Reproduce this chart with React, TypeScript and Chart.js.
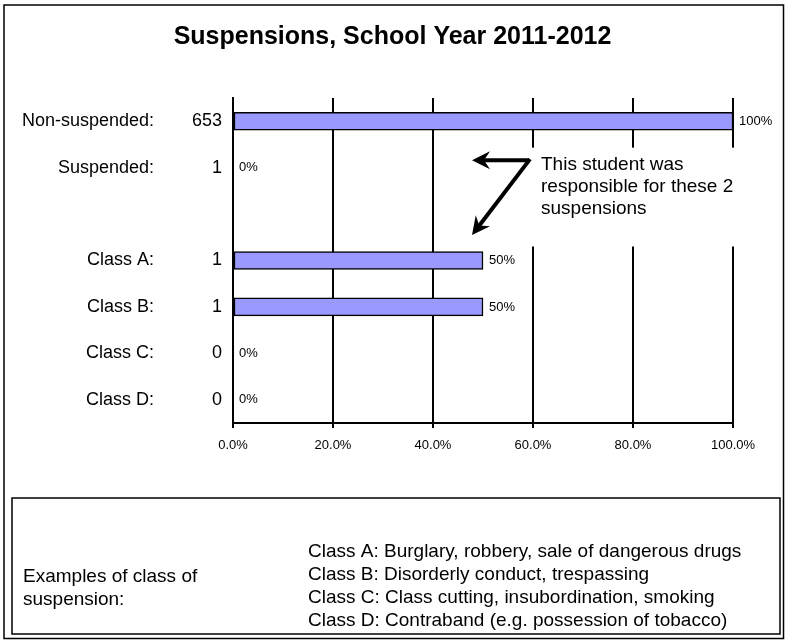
import React, { useEffect, useRef } from 'react';
import { Chart, registerables } from 'chart.js';

Chart.register(...registerables);

const FONT = '"Liberation Sans", Arial, sans-serif';

const chartTitle = 'Suspensions, School Year 2011-2012';
const categories = ['Non-suspended:', 'Suspended:', '', 'Class A:', 'Class B:', 'Class C:', 'Class D:'];
const counts: (number | null)[] = [653, 1, null, 1, 1, 0, 0];
const percents: (number | null)[] = [100, 0, null, 50, 50, 0, 0];
const percentLabels: (string | null)[] = ['100%', '0%', null, '50%', '50%', '0%', '0%'];
const xTickValues = [0, 20, 40, 60, 80, 100];
const noteLines = ['This student was', 'responsible for these 2', 'suspensions'];
const boxLeftLines = ['Examples of class of', 'suspension:'];
const boxRightLines = [
  'Class A: Burglary, robbery, sale of dangerous drugs',
  'Class B: Disorderly conduct, trespassing',
  'Class C: Class cutting, insubordination, smoking',
  'Class D: Contraband (e.g. possession of tobacco)',
];

function drawArrow(ctx: CanvasRenderingContext2D, x1: number, y1: number, x2: number, y2: number) {
  const ang = Math.atan2(y2 - y1, x2 - x1);
  const headLen = 18;
  const headW = 9;
  const bx = x2 - Math.cos(ang) * headLen;
  const by = y2 - Math.sin(ang) * headLen;
  const nx = -Math.sin(ang);
  const ny = Math.cos(ang);
  ctx.beginPath();
  ctx.moveTo(x1, y1);
  ctx.lineTo(x2 - Math.cos(ang) * 8, y2 - Math.sin(ang) * 8);
  ctx.stroke();
  ctx.beginPath();
  ctx.moveTo(x2, y2);
  ctx.lineTo(bx + nx * headW, by + ny * headW);
  ctx.lineTo(x2 - Math.cos(ang) * 12, y2 - Math.sin(ang) * 12);
  ctx.lineTo(bx - nx * headW, by - ny * headW);
  ctx.closePath();
  ctx.fill();
}

const decorPlugin = {
  id: 'decor',
  afterDraw(chart: any) {
    const { ctx, chartArea } = chart;
    const xs = chart.scales.x;
    const ys = chart.scales.y;
    ctx.save();

    // outer frame
    ctx.strokeStyle = '#000';
    ctx.lineWidth = 1.5;
    ctx.strokeRect(4, 5, 779.5, 633.5);

    // title
    ctx.fillStyle = '#000';
    ctx.font = `bold 25px ${FONT}`;
    ctx.textAlign = 'center';
    ctx.textBaseline = 'middle';
    ctx.fillText(chartTitle, chart.width / 2, 37);

    // category labels and counts
    ctx.font = `18px ${FONT}`;
    ctx.textAlign = 'right';
    categories.forEach((c, i) => {
      const y = ys.getPixelForValue(i);
      if (c) ctx.fillText(c, chartArea.left - 79, y);
      const n = counts[i];
      if (n !== null && n !== undefined) ctx.fillText(String(n), chartArea.left - 11, y);
    });

    // value labels
    ctx.font = `13px ${FONT}`;
    ctx.textAlign = 'left';
    percents.forEach((v, i) => {
      const lbl = percentLabels[i];
      if (v === null || lbl === null) return;
      ctx.fillText(lbl, xs.getPixelForValue(v) + 6, ys.getPixelForValue(i));
    });

    // annotation box (white, hides gridlines)
    const yTop = ys.getPixelForValue(1) - 20;
    const yBot = ys.getPixelForValue(3) - 14;
    ctx.fillStyle = '#fff';
    ctx.fillRect(xs.getPixelForValue(45), yTop, xs.getPixelForValue(105) - xs.getPixelForValue(45), yBot - yTop);

    ctx.fillStyle = '#000';
    ctx.font = `19px ${FONT}`;
    ctx.textAlign = 'left';
    const tx = xs.getPixelForValue(61.6);
    noteLines.forEach((l, i) => ctx.fillText(l, tx, ys.getPixelForValue(1) - 2.5 + i * 21.8));

    // arrows
    ctx.strokeStyle = '#000';
    ctx.lineWidth = 4;
    ctx.lineCap = 'butt';
    ctx.lineJoin = 'miter';
    const vx = xs.getPixelForValue(59.2);
    const vy = ys.getPixelForValue(1) - 7.5;
    const tipX = xs.getPixelForValue(47.8);
    drawArrow(ctx, vx, vy, tipX, vy);
    drawArrow(ctx, vx + 1, vy - 1, tipX, ys.getPixelForValue(2) + 21);

    // examples box
    ctx.lineWidth = 1.5;
    ctx.strokeRect(12, 498, 768, 136);
    ctx.font = `19px ${FONT}`;
    ctx.textAlign = 'left';
    boxLeftLines.forEach((l, i) => ctx.fillText(l, 23, 577 + i * 23));
    boxRightLines.forEach((l, i) => ctx.fillText(l, 308, 552 + i * 23));

    ctx.restore();
  },
};

export default function App() {
  const ref = useRef<HTMLCanvasElement | null>(null);
  useEffect(() => {
    if (!ref.current) return;
    const chart = new Chart(ref.current, {
      type: 'bar',
      data: {
        labels: categories,
        datasets: [
          {
            data: percents as any,
            backgroundColor: '#9999FF',
            borderColor: '#000000',
            borderWidth: 1.5,
            barThickness: 18,
            borderSkipped: false,
          },
        ],
      },
      options: {
        indexAxis: 'y',
        animation: false,
        responsive: false,
        devicePixelRatio: 1,
        layout: { padding: { left: 233, right: 52, top: 98, bottom: 0 } },
        plugins: { legend: { display: false }, tooltip: { enabled: false }, title: { display: false } },
        scales: {
          x: {
            min: 0,
            max: 100,
            afterBuildTicks: (s: any) => {
              s.ticks = xTickValues.map((v) => ({ value: v }));
            },
            ticks: {
              callback: (v: any) => Number(v).toFixed(1) + '%',
              font: { size: 13, family: FONT },
              color: '#000',
              padding: 10,
              maxRotation: 0,
            },
            grid: { color: '#000', lineWidth: 2, drawTicks: true, tickLength: 5, tickColor: '#000' },
            border: { display: true, color: '#000', width: 2 },
            afterFit: (s: any) => {
              s.height = 217;
            },
          },
          y: {
            ticks: { display: false },
            grid: { display: false },
            border: { display: true, color: '#000', width: 2 },
            afterFit: (s: any) => {
              s.width = 0;
            },
          },
        },
      },
      plugins: [decorPlugin],
    });
    return () => chart.destroy();
  }, []);
  return (
    <div style={{ position: 'fixed', left: 0, top: 0, width: 785, height: 640, background: '#fff' }}>
      <canvas ref={ref} width={785} height={640} style={{ display: 'block', width: 785, height: 640 }} />
    </div>
  );
}
